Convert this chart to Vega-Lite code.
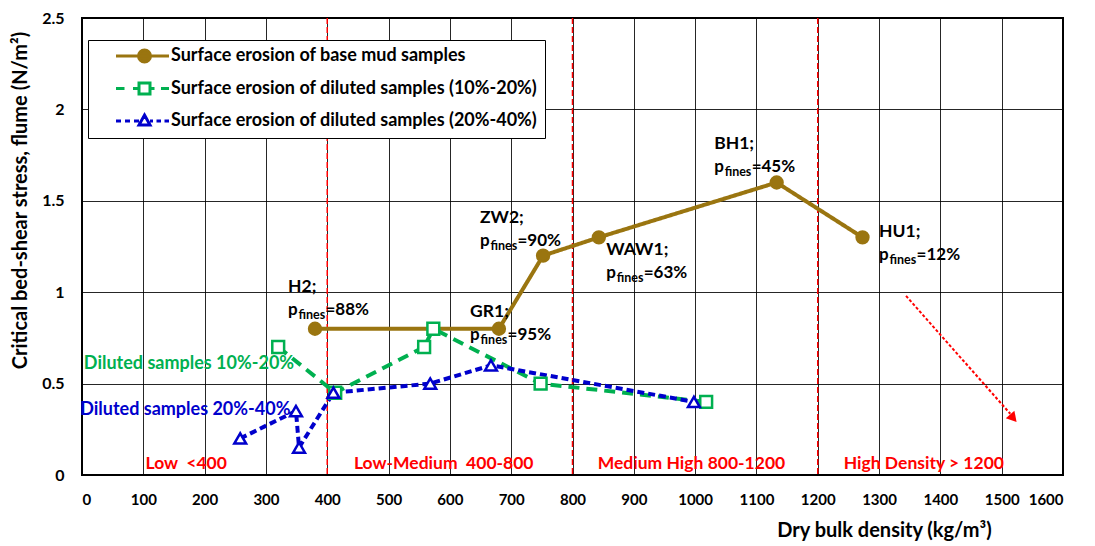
{
  "$schema": "https://vega.github.io/schema/vega-lite/v6.json",
  "width": 981,
  "height": 457,
  "autosize": {"type": "none"},
  "padding": {"left": 82, "top": 18, "right": 32, "bottom": 71},
  "config": {
    "view": {"stroke": "#000000", "strokeWidth": 2},
    "font": "Lato",
    "axis": {"gridColor": "#000000", "gridOpacity": 0.85, "gridWidth": 1, "domain": false, "ticks": false, "tickSize": 0,
             "labelFont": "Lato", "labelFontWeight": "bold", "labelColor": "#000000", "titleFont": "Lato", "titleFontWeight": "bold", "titleColor": "#000000"}
  },
  "datasets": {
    "series": [
      {"series": "Surface erosion of base mud samples", "x": 380, "y": 0.8},
      {"series": "Surface erosion of base mud samples", "x": 680, "y": 0.8},
      {"series": "Surface erosion of base mud samples", "x": 752, "y": 1.2},
      {"series": "Surface erosion of base mud samples", "x": 843, "y": 1.3},
      {"series": "Surface erosion of base mud samples", "x": 1133, "y": 1.6},
      {"series": "Surface erosion of base mud samples", "x": 1273, "y": 1.3},
      {"series": "Surface erosion of diluted samples (10%-20%)", "x": 320, "y": 0.7},
      {"series": "Surface erosion of diluted samples (10%-20%)", "x": 413, "y": 0.45},
      {"series": "Surface erosion of diluted samples (10%-20%)", "x": 558, "y": 0.7},
      {"series": "Surface erosion of diluted samples (10%-20%)", "x": 573, "y": 0.8},
      {"series": "Surface erosion of diluted samples (10%-20%)", "x": 748, "y": 0.5},
      {"series": "Surface erosion of diluted samples (10%-20%)", "x": 1018, "y": 0.4},
      {"series": "Surface erosion of diluted samples (20%-40%)", "x": 258, "y": 0.2},
      {"series": "Surface erosion of diluted samples (20%-40%)", "x": 349, "y": 0.35},
      {"series": "Surface erosion of diluted samples (20%-40%)", "x": 354, "y": 0.15},
      {"series": "Surface erosion of diluted samples (20%-40%)", "x": 410, "y": 0.45},
      {"series": "Surface erosion of diluted samples (20%-40%)", "x": 568, "y": 0.5},
      {"series": "Surface erosion of diluted samples (20%-40%)", "x": 667, "y": 0.6},
      {"series": "Surface erosion of diluted samples (20%-40%)", "x": 998, "y": 0.4}
    ],
    "labels": [
      {"name": "H2;", "pct": "=88%", "x": 336, "y": 0.875},
      {"name": "GR1;", "pct": "=95%", "x": 633, "y": 0.739},
      {"name": "ZW2;", "pct": "=90%", "x": 649, "y": 1.253},
      {"name": "WAW1;", "pct": "=63%", "x": 855, "y": 1.078},
      {"name": "BH1;", "pct": "=45%", "x": 1031, "y": 1.658},
      {"name": "HU1;", "pct": "=12%", "x": 1300, "y": 1.176}
    ],
    "regions": [
      {"text": "Low \u00a0<400", "x": 170, "y": 0.06},
      {"text": "Low-Medium \u00a0400-800", "x": 590, "y": 0.06},
      {"text": "Medium High 800-1200", "x": 994, "y": 0.06},
      {"text": "High Density > 1200", "x": 1373, "y": 0.06}
    ],
    "bounds": [{"x": 400}, {"x": 800}, {"x": 1200}],
    "notes": [
      {"text": "Diluted samples 10%-20%", "series": "Surface erosion of diluted samples (10%-20%)", "x": 3, "y": 0.607},
      {"text": "Diluted samples 20%-40%", "series": "Surface erosion of diluted samples (20%-40%)", "x": -3, "y": 0.356}
    ],
    "arrow": [{"x": 1344, "y": 0.98, "x2": 1514, "y2": 0.335}],
    "arrowhead": [{"x": 1519, "y": 0.31}]
  },
  "encoding": {
    "x": {"type": "quantitative", "scale": {"domain": [0, 1600], "nice": false}},
    "y": {"type": "quantitative", "scale": {"domain": [0, 2.5], "nice": false}}
  },
  "layer": [
    {
      "data": {"name": "bounds"},
      "mark": {"type": "rule", "color": "#FF0000", "strokeWidth": 1.5, "strokeDash": [6, 3]},
      "encoding": {
        "x": {"field": "x", "type": "quantitative", "scale": {"domain": [0, 1600], "nice": false},
              "axis": {"values": [0,100,200,300,400,500,600,700,800,900,1000,1100,1200,1300,1400,1500,1600], "format": "d", "labelFontSize": 15, "labelPadding": 17,
                       "title": "Dry bulk density (kg/m³)", "titleFontSize": 20, "titleX": 802, "titleY": 55, "titleBaseline": "middle", "titleAlign": "center"}}
      }
    },
    {
      "data": {"name": "series"},
      "mark": {"type": "line", "strokeCap": "butt"},
      "encoding": {
        "x": {"field": "x", "type": "quantitative"},
        "y": {"field": "y", "type": "quantitative",
              "axis": {"values": [0, 0.5, 1, 1.5, 2, 2.5], "format": "~g", "labelFontSize": 16, "labelPadding": 18,
                       "title": "Critical bed-shear stress, flume (N/m²)", "titleFontSize": 20, "titleAngle": -90, "titleX": -62, "titleY": 182, "titleAlign": "center", "titleBaseline": "middle"}},
        "color": {"field": "series", "type": "nominal", "legend": null,
                  "scale": {"domain": ["Surface erosion of base mud samples", "Surface erosion of diluted samples (10%-20%)", "Surface erosion of diluted samples (20%-40%)"],
                            "range": ["#9A7510", "#00B050", "#0000CC"]}},
        "strokeDash": {"field": "series", "type": "nominal", "legend": null,
                  "scale": {"domain": ["Surface erosion of base mud samples", "Surface erosion of diluted samples (10%-20%)", "Surface erosion of diluted samples (20%-40%)"],
                            "range": [[1, 0], [11, 7], [7, 4]]}},
        "strokeWidth": {"field": "series", "type": "nominal", "legend": null,
                  "scale": {"domain": ["Surface erosion of base mud samples", "Surface erosion of diluted samples (10%-20%)", "Surface erosion of diluted samples (20%-40%)"],
                            "range": [4, 4, 2.5]}}
      }
    },
    {
      "data": {"name": "series"},
      "mark": {"type": "point", "opacity": 1, "strokeWidth": 2.5, "size": 140},
      "encoding": {
        "x": {"field": "x", "type": "quantitative"},
        "y": {"field": "y", "type": "quantitative"},
        "stroke": {"field": "series", "type": "nominal", "legend": null,
                  "scale": {"domain": ["Surface erosion of base mud samples", "Surface erosion of diluted samples (10%-20%)", "Surface erosion of diluted samples (20%-40%)"],
                            "range": ["#9A7510", "#00B050", "#0000CC"]}},
        "fill": {"field": "series", "type": "nominal", "legend": null,
                  "scale": {"domain": ["Surface erosion of base mud samples", "Surface erosion of diluted samples (10%-20%)", "Surface erosion of diluted samples (20%-40%)"],
                            "range": ["#9A7510", "#FFFFFF", "#FFFFFF"]}},
        "shape": {"field": "series", "type": "nominal", "legend": null,
                  "scale": {"domain": ["Surface erosion of base mud samples", "Surface erosion of diluted samples (10%-20%)", "Surface erosion of diluted samples (20%-40%)"],
                            "range": ["circle", "square", "triangle-up"]}}
      }
    },
    {
      "data": {"name": "series"},
      "transform": [{"filter": "datum.y > 100"}],
      "mark": {"type": "point", "opacity": 1, "strokeWidth": 3},
      "encoding": {
        "x": {"field": "x", "type": "quantitative"},
        "y": {"field": "y", "type": "quantitative"},
        "stroke": {"field": "series", "type": "nominal",
                  "scale": {"domain": ["Surface erosion of base mud samples", "Surface erosion of diluted samples (10%-20%)", "Surface erosion of diluted samples (20%-40%)"],
                            "range": ["#9A7510", "#00B050", "#0000CC"]},
                  "legend": {"title": null, "orient": "none", "legendX": 6, "legendY": 22, "padding": 7, "rowPadding": 8.5,
                             "strokeColor": "#000000", "fillColor": "#FFFFFF", "symbolSize": 100, "symbolStrokeWidth": 3, "symbolOpacity": 1,
                             "labelOffset": 58, "labelFont": "Lato", "labelFontSize": 18, "labelFontWeight": "bold", "labelColor": "#000000", "labelLimit": 0}},
        "fill": {"field": "series", "type": "nominal",
                  "scale": {"domain": ["Surface erosion of base mud samples", "Surface erosion of diluted samples (10%-20%)", "Surface erosion of diluted samples (20%-40%)"],
                            "range": ["#9A7510", "#FFFFFF", "#FFFFFF"]},
                  "legend": {"title": null, "orient": "none", "legendX": 6, "legendY": 22, "padding": 7, "rowPadding": 8.5,
                             "strokeColor": "#000000", "fillColor": "#FFFFFF", "symbolSize": 100, "symbolStrokeWidth": 3, "symbolOpacity": 1,
                             "labelOffset": 58, "labelFont": "Lato", "labelFontSize": 18, "labelFontWeight": "bold", "labelColor": "#000000", "labelLimit": 0}},
        "shape": {"field": "series", "type": "nominal",
                  "scale": {"domain": ["Surface erosion of base mud samples", "Surface erosion of diluted samples (10%-20%)", "Surface erosion of diluted samples (20%-40%)"],
                            "range": ["M2.4,0H13M9.3,0A1.2,1.2 0 1,1 6.9,0A1.2,1.2 0 1,1 9.3,0Z",
                                      "M2.4,0H4.1M5.8,0H7M9.2,0H10.1M11.4,0H13M7,-1.1H9.2V1.1H7Z",
                                      "M2.4,0H3.4M4.2,0H5.2M6,0H7M9.2,0H9.8M10.5,0H11.4M12.1,0H13M8.1,-1.2L9.2,0.8L7,0.8Z"]},
                  "legend": {"title": null, "orient": "none", "legendX": 6, "legendY": 22, "padding": 7, "rowPadding": 8.5,
                             "strokeColor": "#000000", "fillColor": "#FFFFFF", "symbolSize": 100, "symbolStrokeWidth": 3, "symbolOpacity": 1,
                             "labelOffset": 58, "labelFont": "Lato", "labelFontSize": 18, "labelFontWeight": "bold", "labelColor": "#000000", "labelLimit": 0}}
      }
    },
    {
      "data": {"name": "labels"},
      "mark": {"type": "text", "align": "left", "baseline": "alphabetic", "dy": -23, "fontSize": 17.5, "fontWeight": "bold", "font": "Lato", "color": "#000000"},
      "encoding": {"x": {"field": "x", "type": "quantitative"}, "y": {"field": "y", "type": "quantitative"}, "text": {"field": "name"}}
    },
    {
      "data": {"name": "labels"},
      "mark": {"type": "text", "align": "left", "baseline": "alphabetic", "text": "p", "fontSize": 17, "fontWeight": "bold", "font": "Lato", "color": "#000000"},
      "encoding": {"x": {"field": "x", "type": "quantitative"}, "y": {"field": "y", "type": "quantitative"}}
    },
    {
      "data": {"name": "labels"},
      "mark": {"type": "text", "align": "left", "baseline": "alphabetic", "text": "fines", "dx": 10.5, "dy": 4, "fontSize": 12.5, "fontWeight": "bold", "font": "Lato", "color": "#000000"},
      "encoding": {"x": {"field": "x", "type": "quantitative"}, "y": {"field": "y", "type": "quantitative"}}
    },
    {
      "data": {"name": "labels"},
      "mark": {"type": "text", "align": "left", "baseline": "alphabetic", "dx": 37.5, "fontSize": 17, "fontWeight": "bold", "font": "Lato", "color": "#000000"},
      "encoding": {"x": {"field": "x", "type": "quantitative"}, "y": {"field": "y", "type": "quantitative"}, "text": {"field": "pct"}}
    },
    {
      "data": {"name": "regions"},
      "mark": {"type": "text", "align": "center", "baseline": "middle", "fontSize": 17.5, "fontWeight": "bold", "font": "Lato", "color": "#FF0000"},
      "encoding": {"x": {"field": "x", "type": "quantitative"}, "y": {"field": "y", "type": "quantitative"}, "text": {"field": "text"}}
    },
    {
      "data": {"name": "notes"},
      "mark": {"type": "text", "align": "left", "baseline": "middle", "fontSize": 18, "fontWeight": "bold", "font": "Lato"},
      "encoding": {"x": {"field": "x", "type": "quantitative"}, "y": {"field": "y", "type": "quantitative"}, "text": {"field": "text"},
                   "color": {"field": "series", "type": "nominal", "legend": null,
                             "scale": {"domain": ["Surface erosion of base mud samples", "Surface erosion of diluted samples (10%-20%)", "Surface erosion of diluted samples (20%-40%)"],
                                       "range": ["#9A7510", "#00B050", "#0000CC"]}}}
    },
    {
      "data": {"name": "arrow"},
      "mark": {"type": "rule", "color": "#FF0000", "strokeWidth": 2, "strokeDash": [3, 2]},
      "encoding": {"x": {"field": "x", "type": "quantitative"}, "y": {"field": "y", "type": "quantitative"},
                   "x2": {"field": "x2"}, "y2": {"field": "y2"}}
    },
    {
      "data": {"name": "arrowhead"},
      "mark": {"type": "point", "shape": "triangle-up", "filled": true, "opacity": 1, "color": "#FF0000", "size": 130, "angle": 139},
      "encoding": {"x": {"field": "x", "type": "quantitative"}, "y": {"field": "y", "type": "quantitative"}}
    }
  ],
  "resolve": {"scale": {"shape": "independent", "stroke": "independent", "fill": "independent", "color": "independent", "strokeDash": "independent", "strokeWidth": "independent"}}
}
